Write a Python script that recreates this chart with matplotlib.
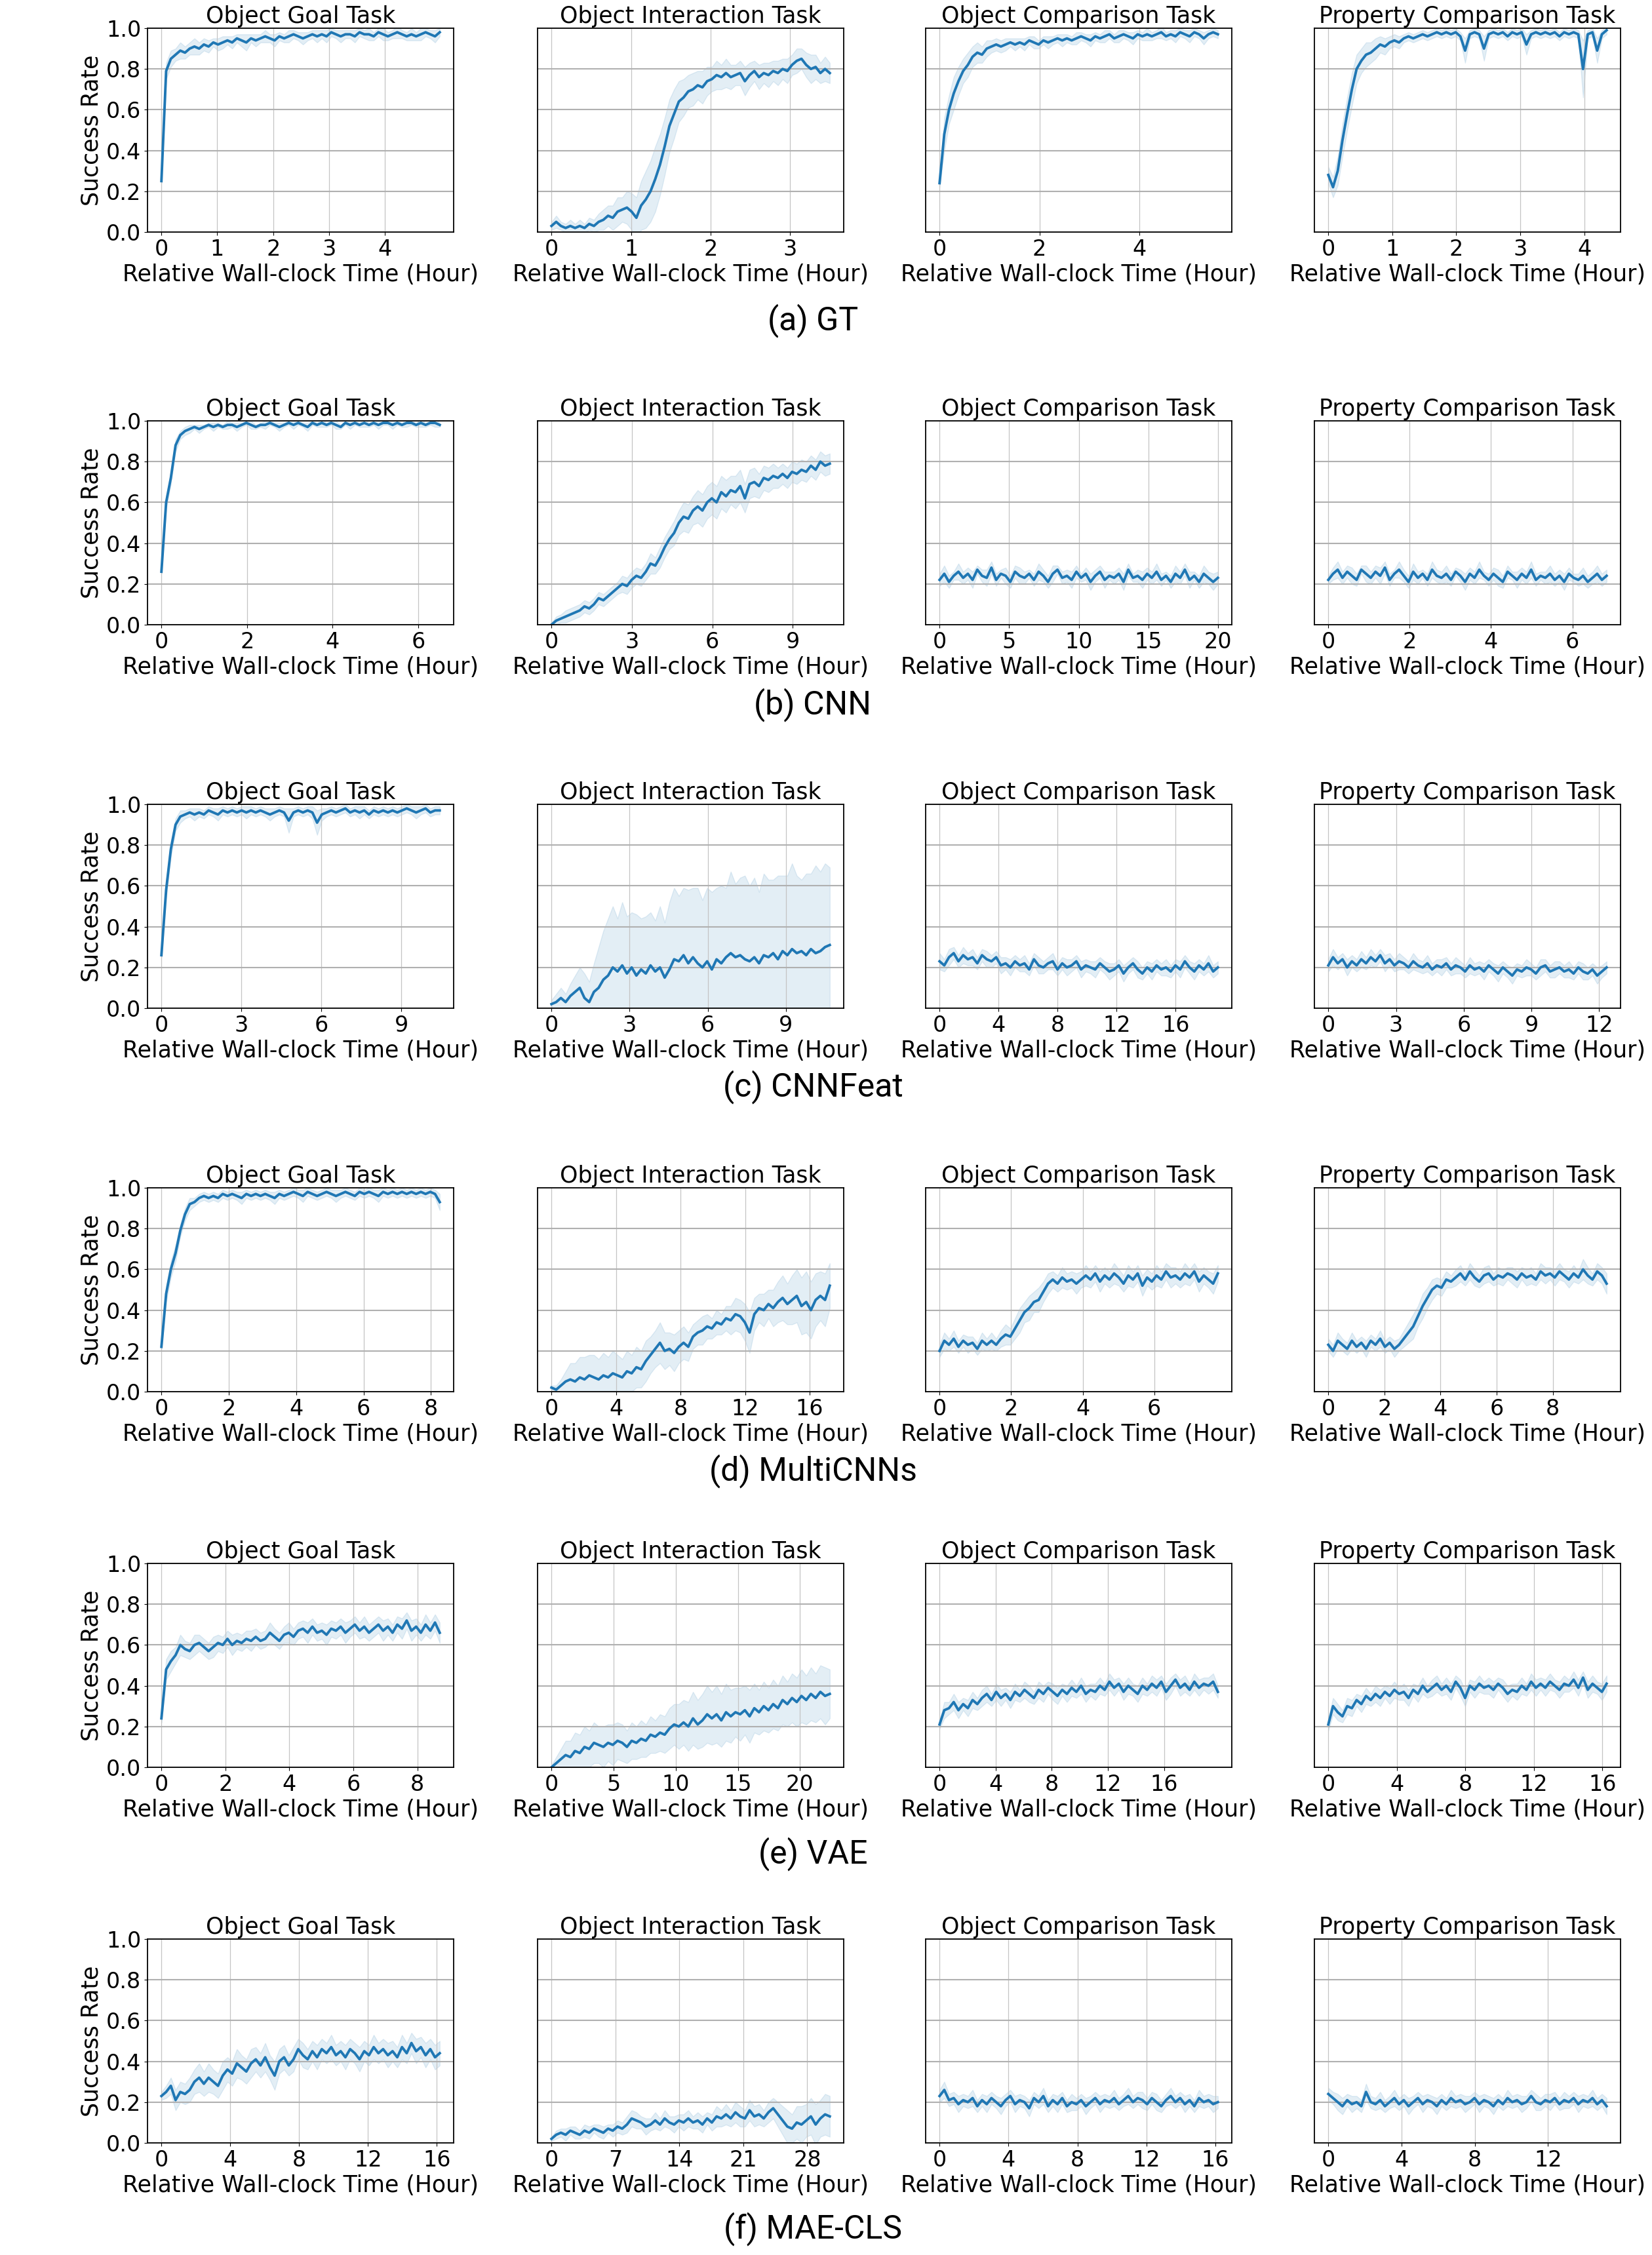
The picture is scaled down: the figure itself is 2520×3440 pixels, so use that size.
import numpy as np
import matplotlib.pyplot as plt

saida = 'out.png'

tarefas = ['Object Goal Task', 'Object Interaction Task',
           'Object Comparison Task', 'Property Comparison Task']
metodos = ['(a) GT', '(b) CNN', '(c) CNNFeat', '(d) MultiCNNs', '(e) VAE', '(f) MAE-CLS']

# duracao de cada treino (horas), uma linha por metodo
horas_gt = [4.98, 3.50, 5.57, 4.35]
horas_cnn = [6.50, 10.38, 20.0, 6.84]
horas_feat = [10.44, 10.69, 18.86, 12.33]
horas_multi = [8.26, 17.25, 7.78, 9.92]
horas_vae = [8.70, 22.4, 19.84, 16.25]
horas_mae = [16.17, 30.46, 16.14, 15.2]

ticks_gt = [[0, 1, 2, 3, 4], [0, 1, 2, 3], [0, 2, 4], [0, 1, 2, 3, 4]]
ticks_cnn = [[0, 2, 4, 6], [0, 3, 6, 9], [0, 5, 10, 15, 20], [0, 2, 4, 6]]
ticks_feat = [[0, 3, 6, 9], [0, 3, 6, 9], [0, 4, 8, 12, 16], [0, 3, 6, 9, 12]]
ticks_multi = [[0, 2, 4, 6, 8], [0, 4, 8, 12, 16], [0, 2, 4, 6], [0, 2, 4, 6, 8]]
ticks_vae = [[0, 2, 4, 6, 8], [0, 5, 10, 15, 20], [0, 4, 8, 12, 16], [0, 4, 8, 12, 16]]
ticks_mae = [[0, 4, 8, 12, 16], [0, 7, 14, 21, 28], [0, 4, 8, 12, 16], [0, 4, 8, 12]]

# ---------------- (a) GT ----------------
gt_goal = [0.25, 0.79, 0.85, 0.87, 0.89, 0.88, 0.90, 0.91, 0.90, 0.92,
           0.91, 0.93, 0.92, 0.93, 0.94, 0.93, 0.95, 0.94, 0.93, 0.95,
           0.94, 0.95, 0.96, 0.95, 0.94, 0.96, 0.95, 0.96, 0.97, 0.96,
           0.95, 0.96, 0.97, 0.96, 0.97, 0.96, 0.98, 0.97, 0.96, 0.97,
           0.97, 0.96, 0.98, 0.97, 0.97, 0.96, 0.98, 0.97, 0.96, 0.97,
           0.98, 0.97, 0.96, 0.97, 0.96, 0.97, 0.98, 0.97, 0.96, 0.98]
gt_goal_sd = [0.01, 0.04, 0.04, 0.03, 0.04, 0.03, 0.03, 0.04, 0.03, 0.03,
              0.03, 0.02, 0.03, 0.03, 0.02, 0.03, 0.02, 0.03, 0.04, 0.02,
              0.03, 0.02, 0.03, 0.02, 0.03, 0.02, 0.02, 0.03, 0.02, 0.02,
              0.03, 0.02, 0.02, 0.03, 0.02, 0.03, 0.02, 0.02, 0.03, 0.02,
              0.02, 0.03, 0.02, 0.02, 0.03, 0.02, 0.02, 0.03, 0.02, 0.02,
              0.03, 0.02, 0.02, 0.03, 0.02, 0.03, 0.02, 0.02, 0.03, 0.02]
gt_inter = [0.03, 0.05, 0.03, 0.02, 0.03, 0.02, 0.03, 0.02, 0.04, 0.03,
            0.05, 0.06, 0.08, 0.07, 0.10, 0.11, 0.12, 0.10, 0.07, 0.13,
            0.16, 0.20, 0.26, 0.33, 0.42, 0.52, 0.58, 0.64, 0.66, 0.69,
            0.70, 0.72, 0.71, 0.74, 0.75, 0.77, 0.76, 0.78, 0.76, 0.77,
            0.78, 0.74, 0.77, 0.79, 0.76, 0.78, 0.77, 0.79, 0.78, 0.80,
            0.79, 0.82, 0.84, 0.85, 0.82, 0.80, 0.81, 0.78, 0.80, 0.78]
gt_inter_sd = [0.02, 0.03, 0.02, 0.02, 0.03, 0.02, 0.03, 0.02, 0.03, 0.03,
               0.04, 0.05, 0.05, 0.06, 0.07, 0.06, 0.08, 0.09, 0.10, 0.12,
               0.14, 0.15, 0.16, 0.15, 0.14, 0.13, 0.12, 0.10, 0.09, 0.08,
               0.08, 0.07, 0.08, 0.07, 0.06, 0.07, 0.06, 0.07, 0.06, 0.05,
               0.06, 0.07, 0.06, 0.05, 0.06, 0.05, 0.06, 0.05, 0.06, 0.05,
               0.06, 0.05, 0.06, 0.05, 0.06, 0.07, 0.06, 0.05, 0.06, 0.05]
gt_comp = [0.24, 0.48, 0.60, 0.68, 0.74, 0.79, 0.82, 0.86, 0.88, 0.87,
           0.90, 0.91, 0.92, 0.91, 0.92, 0.93, 0.92, 0.93, 0.92, 0.94,
           0.93, 0.92, 0.94, 0.93, 0.94, 0.95, 0.94, 0.95, 0.94, 0.95,
           0.96, 0.95, 0.94, 0.96, 0.95, 0.96, 0.97, 0.95, 0.96, 0.97,
           0.96, 0.95, 0.97, 0.96, 0.97, 0.96, 0.97, 0.98, 0.96, 0.97,
           0.96, 0.98, 0.97, 0.96, 0.98, 0.97, 0.95, 0.97, 0.98, 0.97]
gt_comp_sd = [0.02, 0.08, 0.07, 0.08, 0.07, 0.06, 0.06, 0.05, 0.05, 0.04,
              0.04, 0.03, 0.03, 0.03, 0.03, 0.02, 0.03, 0.02, 0.03, 0.02,
              0.03, 0.02, 0.02, 0.03, 0.02, 0.02, 0.03, 0.02, 0.02, 0.03,
              0.02, 0.02, 0.03, 0.02, 0.02, 0.03, 0.02, 0.02, 0.03, 0.02,
              0.02, 0.03, 0.02, 0.02, 0.03, 0.02, 0.02, 0.03, 0.02, 0.02,
              0.03, 0.02, 0.02, 0.03, 0.02, 0.02, 0.03, 0.02, 0.02, 0.02]
gt_prop = [0.28, 0.22, 0.30, 0.45, 0.58, 0.70, 0.80, 0.84, 0.87, 0.88,
           0.90, 0.92, 0.91, 0.93, 0.94, 0.93, 0.95, 0.96, 0.95, 0.96,
           0.97, 0.96, 0.97, 0.98, 0.97, 0.98, 0.97, 0.98, 0.96, 0.89,
           0.97, 0.98, 0.97, 0.90, 0.97, 0.98, 0.97, 0.98, 0.96, 0.98,
           0.97, 0.98, 0.92, 0.97, 0.98, 0.97, 0.98, 0.97, 0.98, 0.96,
           0.98, 0.97, 0.98, 0.97, 0.80, 0.97, 0.98, 0.89, 0.97, 0.99]
gt_prop_sd = [0.04, 0.05, 0.07, 0.08, 0.08, 0.08, 0.07, 0.06, 0.06, 0.05,
              0.05, 0.04, 0.04, 0.03, 0.03, 0.03, 0.02, 0.02, 0.02, 0.02,
              0.02, 0.02, 0.02, 0.02, 0.02, 0.02, 0.02, 0.02, 0.02, 0.06,
              0.02, 0.02, 0.02, 0.06, 0.02, 0.02, 0.02, 0.02, 0.02, 0.02,
              0.02, 0.02, 0.05, 0.02, 0.02, 0.02, 0.02, 0.02, 0.02, 0.02,
              0.02, 0.02, 0.02, 0.02, 0.14, 0.02, 0.02, 0.06, 0.02, 0.02]

# ---------------- (b) CNN ----------------
cnn_goal = [0.26, 0.60, 0.72, 0.88, 0.93, 0.95, 0.96, 0.97, 0.96, 0.97,
            0.98, 0.97, 0.98, 0.97, 0.98, 0.98, 0.97, 0.98, 0.99, 0.98,
            0.97, 0.98, 0.98, 0.99, 0.98, 0.97, 0.98, 0.99, 0.98, 0.99,
            0.98, 0.97, 0.99, 0.98, 0.99, 0.98, 0.99, 0.98, 0.97, 0.99,
            0.98, 0.99, 0.98, 0.99, 0.98, 0.99, 0.98, 0.99, 0.99, 0.98,
            0.99, 0.98, 0.99, 0.99, 0.98, 0.99, 0.98, 0.99, 0.99, 0.98]
cnn_goal_sd = [0.01, 0.03, 0.03, 0.03, 0.02, 0.02, 0.02, 0.01, 0.02, 0.01,
               0.01, 0.02, 0.01, 0.01, 0.02, 0.01, 0.02, 0.01, 0.01, 0.02,
               0.01, 0.01, 0.02, 0.01, 0.01, 0.02, 0.01, 0.01, 0.02, 0.01,
               0.01, 0.02, 0.01, 0.01, 0.02, 0.01, 0.01, 0.02, 0.01, 0.01,
               0.02, 0.01, 0.01, 0.02, 0.01, 0.01, 0.02, 0.01, 0.01, 0.02,
               0.01, 0.01, 0.02, 0.01, 0.01, 0.02, 0.01, 0.01, 0.02, 0.01]
cnn_inter = [0.00, 0.02, 0.03, 0.04, 0.05, 0.06, 0.07, 0.09, 0.08, 0.10,
             0.13, 0.12, 0.14, 0.16, 0.18, 0.20, 0.19, 0.22, 0.24, 0.23,
             0.26, 0.30, 0.29, 0.33, 0.38, 0.42, 0.45, 0.50, 0.53, 0.52,
             0.56, 0.58, 0.56, 0.60, 0.62, 0.60, 0.65, 0.63, 0.66, 0.65,
             0.68, 0.62, 0.69, 0.70, 0.68, 0.72, 0.71, 0.73, 0.72, 0.74,
             0.72, 0.75, 0.74, 0.76, 0.75, 0.78, 0.76, 0.80, 0.78, 0.79]
cnn_inter_sd = [0.01, 0.02, 0.02, 0.03, 0.03, 0.03, 0.03, 0.03, 0.03, 0.03,
                0.03, 0.03, 0.03, 0.03, 0.03, 0.04, 0.04, 0.04, 0.04, 0.04,
                0.04, 0.05, 0.04, 0.05, 0.05, 0.05, 0.06, 0.06, 0.07, 0.07,
                0.07, 0.08, 0.08, 0.08, 0.08, 0.08, 0.08, 0.08, 0.07, 0.08,
                0.08, 0.07, 0.07, 0.07, 0.06, 0.06, 0.06, 0.06, 0.05, 0.05,
                0.05, 0.05, 0.05, 0.05, 0.05, 0.05, 0.05, 0.05, 0.05, 0.05]
cnn_comp = [0.22, 0.25, 0.21, 0.24, 0.26, 0.23, 0.25, 0.22, 0.27, 0.24,
            0.23, 0.28, 0.22, 0.25, 0.24, 0.21, 0.26, 0.24, 0.23, 0.25,
            0.22, 0.26, 0.24, 0.21, 0.25, 0.27, 0.23, 0.24, 0.22, 0.26,
            0.23, 0.25, 0.21, 0.24, 0.26, 0.22, 0.24, 0.23, 0.25, 0.21,
            0.27, 0.23, 0.24, 0.22, 0.25, 0.23, 0.26, 0.22, 0.24, 0.21,
            0.25, 0.23, 0.27, 0.22, 0.24, 0.21, 0.25, 0.23, 0.21, 0.23]
cnn_comp_sd = [0.03, 0.04, 0.03, 0.02, 0.04, 0.03, 0.03, 0.04, 0.02, 0.03,
               0.04, 0.03, 0.03, 0.02, 0.04, 0.03, 0.03, 0.04, 0.03, 0.02,
               0.03, 0.04, 0.03, 0.03, 0.04, 0.02, 0.03, 0.03, 0.04, 0.03,
               0.02, 0.03, 0.04, 0.03, 0.03, 0.04, 0.02, 0.03, 0.03, 0.04,
               0.03, 0.02, 0.03, 0.04, 0.03, 0.03, 0.04, 0.03, 0.02, 0.03,
               0.04, 0.03, 0.03, 0.04, 0.02, 0.03, 0.04, 0.03, 0.04, 0.03]
cnn_prop = [0.22, 0.25, 0.27, 0.23, 0.26, 0.24, 0.22, 0.27, 0.25, 0.23,
            0.26, 0.24, 0.28, 0.22, 0.25, 0.27, 0.24, 0.21, 0.26, 0.23,
            0.25, 0.22, 0.27, 0.24, 0.23, 0.25, 0.22, 0.26, 0.24, 0.21,
            0.25, 0.23, 0.27, 0.24, 0.22, 0.25, 0.23, 0.21, 0.26, 0.24,
            0.22, 0.25, 0.23, 0.27, 0.22, 0.24, 0.23, 0.25, 0.22, 0.24,
            0.21, 0.25, 0.23, 0.22, 0.24, 0.21, 0.23, 0.25, 0.22, 0.24]
cnn_prop_sd = [0.02, 0.03, 0.04, 0.03, 0.03, 0.04, 0.03, 0.02, 0.04, 0.03,
               0.03, 0.04, 0.03, 0.03, 0.02, 0.04, 0.03, 0.03, 0.04, 0.03,
               0.02, 0.03, 0.04, 0.03, 0.03, 0.04, 0.03, 0.02, 0.03, 0.04,
               0.03, 0.03, 0.04, 0.02, 0.03, 0.03, 0.04, 0.03, 0.03, 0.02,
               0.04, 0.03, 0.03, 0.04, 0.03, 0.02, 0.03, 0.04, 0.03, 0.03,
               0.04, 0.03, 0.02, 0.03, 0.04, 0.03, 0.03, 0.04, 0.03, 0.03]

# ---------------- (c) CNNFeat ----------------
feat_goal = [0.26, 0.58, 0.78, 0.90, 0.94, 0.95, 0.96, 0.95, 0.96, 0.95,
             0.97, 0.96, 0.95, 0.97, 0.96, 0.97, 0.96, 0.97, 0.96, 0.97,
             0.96, 0.97, 0.96, 0.95, 0.96, 0.97, 0.96, 0.92, 0.96, 0.97,
             0.96, 0.97, 0.96, 0.91, 0.95, 0.96, 0.97, 0.96, 0.97, 0.98,
             0.96, 0.97, 0.96, 0.97, 0.95, 0.97, 0.96, 0.97, 0.96, 0.97,
             0.96, 0.97, 0.98, 0.97, 0.96, 0.97, 0.98, 0.96, 0.97, 0.97]
feat_goal_sd = [0.01, 0.04, 0.04, 0.03, 0.03, 0.02, 0.02, 0.03, 0.02, 0.02,
                0.02, 0.02, 0.03, 0.02, 0.02, 0.02, 0.02, 0.02, 0.03, 0.02,
                0.02, 0.02, 0.02, 0.03, 0.02, 0.02, 0.02, 0.06, 0.02, 0.02,
                0.02, 0.02, 0.03, 0.06, 0.03, 0.02, 0.02, 0.02, 0.02, 0.02,
                0.02, 0.02, 0.03, 0.02, 0.02, 0.02, 0.02, 0.02, 0.02, 0.02,
                0.02, 0.02, 0.02, 0.02, 0.03, 0.02, 0.02, 0.02, 0.02, 0.02]
feat_inter = [0.02, 0.03, 0.05, 0.03, 0.06, 0.08, 0.10, 0.05, 0.03, 0.08,
              0.10, 0.14, 0.16, 0.20, 0.18, 0.21, 0.17, 0.20, 0.16, 0.19,
              0.17, 0.21, 0.18, 0.20, 0.15, 0.19, 0.24, 0.23, 0.26, 0.22,
              0.25, 0.22, 0.20, 0.23, 0.19, 0.24, 0.22, 0.25, 0.27, 0.25,
              0.26, 0.24, 0.23, 0.25, 0.22, 0.26, 0.25, 0.27, 0.24, 0.28,
              0.26, 0.29, 0.27, 0.28, 0.26, 0.29, 0.27, 0.28, 0.30, 0.31]
feat_inter_sd = [0.02, 0.04, 0.05, 0.04, 0.06, 0.08, 0.10, 0.12, 0.10, 0.14,
                 0.20, 0.24, 0.28, 0.30, 0.26, 0.31, 0.28, 0.27, 0.30, 0.25,
                 0.28, 0.26, 0.25, 0.30, 0.27, 0.33, 0.35, 0.32, 0.33, 0.36,
                 0.34, 0.37, 0.33, 0.36, 0.38, 0.35, 0.38, 0.34, 0.40, 0.36,
                 0.38, 0.41, 0.37, 0.39, 0.35, 0.40, 0.38, 0.36, 0.41, 0.37,
                 0.39, 0.42, 0.38, 0.35, 0.40, 0.37, 0.43, 0.39, 0.41, 0.38]
feat_comp = [0.23, 0.21, 0.25, 0.27, 0.23, 0.26, 0.24, 0.25, 0.22, 0.26,
             0.24, 0.23, 0.25, 0.21, 0.22, 0.20, 0.23, 0.21, 0.22, 0.19,
             0.24, 0.21, 0.20, 0.22, 0.23, 0.19, 0.22, 0.20, 0.21, 0.23,
             0.19, 0.21, 0.20, 0.19, 0.22, 0.20, 0.18, 0.19, 0.21, 0.17,
             0.20, 0.22, 0.19, 0.17, 0.20, 0.18, 0.21, 0.19, 0.20, 0.18,
             0.21, 0.19, 0.23, 0.20, 0.18, 0.21, 0.19, 0.22, 0.18, 0.20]
feat_comp_sd = [0.04, 0.03, 0.04, 0.03, 0.03, 0.04, 0.03, 0.04, 0.03, 0.03,
                0.04, 0.03, 0.03, 0.04, 0.03, 0.04, 0.03, 0.03, 0.04, 0.03,
                0.03, 0.04, 0.03, 0.03, 0.04, 0.03, 0.03, 0.04, 0.03, 0.03,
                0.04, 0.03, 0.03, 0.04, 0.03, 0.03, 0.04, 0.03, 0.03, 0.04,
                0.03, 0.03, 0.04, 0.03, 0.03, 0.04, 0.03, 0.03, 0.04, 0.03,
                0.03, 0.04, 0.03, 0.03, 0.04, 0.03, 0.03, 0.04, 0.03, 0.03]
feat_prop = [0.21, 0.25, 0.22, 0.24, 0.20, 0.23, 0.21, 0.24, 0.22, 0.25,
             0.23, 0.26, 0.22, 0.24, 0.21, 0.23, 0.22, 0.20, 0.23, 0.21,
             0.20, 0.22, 0.19, 0.21, 0.20, 0.22, 0.19, 0.21, 0.20, 0.18,
             0.21, 0.19, 0.20, 0.18, 0.21, 0.19, 0.17, 0.20, 0.18, 0.16,
             0.19, 0.18, 0.20, 0.19, 0.17, 0.20, 0.21, 0.18, 0.19, 0.20,
             0.18, 0.19, 0.17, 0.20, 0.18, 0.17, 0.19, 0.16, 0.18, 0.20]
feat_prop_sd = [0.03, 0.04, 0.03, 0.03, 0.04, 0.03, 0.03, 0.04, 0.03, 0.04,
                0.03, 0.03, 0.04, 0.03, 0.03, 0.04, 0.03, 0.03, 0.04, 0.03,
                0.03, 0.04, 0.03, 0.03, 0.04, 0.03, 0.03, 0.04, 0.03, 0.03,
                0.04, 0.03, 0.03, 0.04, 0.03, 0.03, 0.04, 0.03, 0.03, 0.04,
                0.03, 0.03, 0.04, 0.03, 0.03, 0.04, 0.03, 0.03, 0.04, 0.03,
                0.03, 0.04, 0.03, 0.03, 0.04, 0.03, 0.03, 0.04, 0.03, 0.03]

# ---------------- (d) MultiCNNs ----------------
multi_goal = [0.22, 0.48, 0.60, 0.68, 0.79, 0.87, 0.92, 0.93, 0.95, 0.96,
              0.95, 0.96, 0.95, 0.97, 0.96, 0.97, 0.96, 0.95, 0.97, 0.96,
              0.97, 0.96, 0.97, 0.96, 0.95, 0.97, 0.96, 0.97, 0.98, 0.97,
              0.96, 0.98, 0.97, 0.96, 0.97, 0.98, 0.97, 0.96, 0.97, 0.98,
              0.97, 0.96, 0.98, 0.97, 0.98, 0.97, 0.96, 0.98, 0.97, 0.98,
              0.97, 0.98, 0.97, 0.98, 0.97, 0.98, 0.97, 0.98, 0.97, 0.93]
multi_goal_sd = [0.01, 0.04, 0.04, 0.04, 0.03, 0.03, 0.03, 0.02, 0.02, 0.02,
                 0.02, 0.02, 0.02, 0.02, 0.02, 0.02, 0.02, 0.03, 0.02, 0.02,
                 0.02, 0.02, 0.02, 0.02, 0.03, 0.02, 0.02, 0.02, 0.02, 0.02,
                 0.03, 0.02, 0.02, 0.02, 0.02, 0.02, 0.02, 0.03, 0.02, 0.02,
                 0.02, 0.02, 0.02, 0.02, 0.02, 0.02, 0.03, 0.02, 0.02, 0.02,
                 0.02, 0.02, 0.02, 0.02, 0.02, 0.02, 0.02, 0.02, 0.02, 0.04]
multi_inter = [0.02, 0.01, 0.03, 0.05, 0.06, 0.05, 0.07, 0.06, 0.08, 0.07,
               0.06, 0.08, 0.07, 0.09, 0.08, 0.07, 0.10, 0.09, 0.12, 0.11,
               0.15, 0.18, 0.21, 0.24, 0.20, 0.21, 0.19, 0.22, 0.24, 0.22,
               0.27, 0.29, 0.30, 0.32, 0.31, 0.34, 0.33, 0.36, 0.35, 0.38,
               0.37, 0.34, 0.29, 0.38, 0.41, 0.40, 0.43, 0.41, 0.44, 0.46,
               0.43, 0.45, 0.47, 0.42, 0.44, 0.40, 0.45, 0.47, 0.45, 0.52]
multi_inter_sd = [0.01, 0.02, 0.03, 0.05, 0.08, 0.09, 0.10, 0.11, 0.10, 0.11,
                  0.10, 0.11, 0.10, 0.11, 0.10, 0.09, 0.10, 0.09, 0.10, 0.09,
                  0.10, 0.09, 0.09, 0.10, 0.09, 0.08, 0.09, 0.08, 0.08, 0.07,
                  0.06, 0.06, 0.07, 0.06, 0.05, 0.06, 0.05, 0.06, 0.07, 0.08,
                  0.08, 0.09, 0.10, 0.08, 0.07, 0.08, 0.07, 0.09, 0.10, 0.11,
                  0.10, 0.12, 0.13, 0.14, 0.15, 0.14, 0.13, 0.12, 0.13, 0.11]
multi_comp = [0.20, 0.25, 0.23, 0.26, 0.22, 0.25, 0.23, 0.24, 0.21, 0.25,
              0.23, 0.25, 0.23, 0.26, 0.28, 0.27, 0.31, 0.35, 0.39, 0.41,
              0.44, 0.45, 0.49, 0.53, 0.55, 0.53, 0.56, 0.54, 0.55, 0.53,
              0.55, 0.57, 0.55, 0.58, 0.54, 0.57, 0.55, 0.58, 0.56, 0.53,
              0.57, 0.55, 0.58, 0.52, 0.56, 0.54, 0.57, 0.55, 0.59, 0.56,
              0.57, 0.55, 0.58, 0.56, 0.59, 0.54, 0.57, 0.55, 0.53, 0.58]
multi_comp_sd = [0.03, 0.04, 0.03, 0.04, 0.03, 0.03, 0.04, 0.03, 0.03, 0.04,
                 0.03, 0.04, 0.03, 0.04, 0.05, 0.04, 0.05, 0.06, 0.05, 0.06,
                 0.05, 0.06, 0.05, 0.05, 0.04, 0.04, 0.05, 0.04, 0.04, 0.05,
                 0.04, 0.05, 0.04, 0.04, 0.05, 0.04, 0.04, 0.05, 0.04, 0.04,
                 0.05, 0.04, 0.04, 0.05, 0.04, 0.04, 0.05, 0.04, 0.04, 0.05,
                 0.04, 0.04, 0.05, 0.04, 0.04, 0.05, 0.04, 0.04, 0.05, 0.04]
multi_prop = [0.23, 0.20, 0.25, 0.23, 0.21, 0.25, 0.22, 0.24, 0.21, 0.25,
              0.23, 0.26, 0.22, 0.24, 0.21, 0.23, 0.26, 0.29, 0.32, 0.37,
              0.42, 0.46, 0.50, 0.52, 0.51, 0.55, 0.54, 0.56, 0.58, 0.55,
              0.59, 0.56, 0.54, 0.57, 0.58, 0.55, 0.57, 0.56, 0.58, 0.57,
              0.55, 0.58, 0.56, 0.57, 0.55, 0.59, 0.57, 0.58, 0.56, 0.59,
              0.57, 0.55, 0.58, 0.56, 0.60, 0.57, 0.55, 0.59, 0.57, 0.53]
multi_prop_sd = [0.03, 0.03, 0.04, 0.03, 0.03, 0.04, 0.03, 0.03, 0.04, 0.03,
                 0.03, 0.04, 0.03, 0.03, 0.04, 0.03, 0.04, 0.05, 0.06, 0.05,
                 0.06, 0.05, 0.05, 0.04, 0.04, 0.04, 0.03, 0.04, 0.04, 0.03,
                 0.04, 0.04, 0.03, 0.04, 0.04, 0.03, 0.04, 0.04, 0.03, 0.04,
                 0.04, 0.03, 0.04, 0.04, 0.03, 0.04, 0.04, 0.03, 0.04, 0.04,
                 0.03, 0.04, 0.04, 0.03, 0.05, 0.04, 0.03, 0.04, 0.04, 0.05]

# ---------------- (e) VAE ----------------
vae_goal = [0.24, 0.48, 0.52, 0.55, 0.60, 0.58, 0.57, 0.60, 0.61, 0.59,
            0.57, 0.59, 0.61, 0.60, 0.63, 0.60, 0.62, 0.61, 0.63, 0.62,
            0.64, 0.62, 0.63, 0.66, 0.64, 0.62, 0.65, 0.66, 0.64, 0.67,
            0.68, 0.66, 0.69, 0.66, 0.67, 0.65, 0.68, 0.67, 0.69, 0.66,
            0.68, 0.70, 0.67, 0.69, 0.66, 0.68, 0.70, 0.67, 0.69, 0.66,
            0.70, 0.68, 0.72, 0.67, 0.69, 0.66, 0.70, 0.67, 0.71, 0.66]
vae_goal_sd = [0.02, 0.05, 0.05, 0.04, 0.05, 0.04, 0.04, 0.05, 0.04, 0.04,
               0.04, 0.05, 0.04, 0.04, 0.04, 0.05, 0.04, 0.04, 0.04, 0.05,
               0.04, 0.04, 0.04, 0.05, 0.04, 0.04, 0.04, 0.05, 0.04, 0.04,
               0.04, 0.05, 0.04, 0.04, 0.04, 0.05, 0.04, 0.04, 0.04, 0.05,
               0.04, 0.04, 0.04, 0.05, 0.04, 0.04, 0.04, 0.05, 0.04, 0.04,
               0.04, 0.05, 0.04, 0.05, 0.04, 0.04, 0.05, 0.04, 0.04, 0.05]
vae_inter = [0.00, 0.02, 0.04, 0.06, 0.05, 0.08, 0.07, 0.10, 0.09, 0.12,
             0.11, 0.10, 0.12, 0.11, 0.13, 0.12, 0.10, 0.13, 0.12, 0.14,
             0.13, 0.16, 0.15, 0.17, 0.16, 0.19, 0.21, 0.20, 0.22, 0.20,
             0.24, 0.21, 0.23, 0.26, 0.24, 0.26, 0.23, 0.27, 0.25, 0.27,
             0.26, 0.28, 0.25, 0.29, 0.27, 0.30, 0.28, 0.31, 0.29, 0.33,
             0.31, 0.34, 0.32, 0.35, 0.33, 0.36, 0.34, 0.37, 0.35, 0.36]
vae_inter_sd = [0.01, 0.03, 0.05, 0.07, 0.08, 0.09, 0.09, 0.10, 0.09, 0.10,
                0.09, 0.10, 0.09, 0.10, 0.09, 0.09, 0.08, 0.09, 0.08, 0.09,
                0.08, 0.09, 0.08, 0.09, 0.09, 0.10, 0.10, 0.11, 0.11, 0.12,
                0.13, 0.12, 0.13, 0.14, 0.13, 0.14, 0.13, 0.14, 0.13, 0.12,
                0.13, 0.12, 0.13, 0.12, 0.11, 0.12, 0.11, 0.12, 0.11, 0.12,
                0.11, 0.12, 0.12, 0.13, 0.12, 0.13, 0.12, 0.13, 0.14, 0.12]
vae_comp = [0.21, 0.28, 0.29, 0.32, 0.28, 0.31, 0.29, 0.33, 0.31, 0.34,
            0.36, 0.33, 0.37, 0.34, 0.36, 0.33, 0.37, 0.35, 0.38, 0.36,
            0.34, 0.38, 0.36, 0.39, 0.37, 0.35, 0.38, 0.36, 0.39, 0.37,
            0.40, 0.36, 0.38, 0.37, 0.40, 0.38, 0.42, 0.39, 0.41, 0.37,
            0.40, 0.38, 0.36, 0.40, 0.38, 0.41, 0.39, 0.42, 0.37, 0.40,
            0.43, 0.39, 0.41, 0.38, 0.42, 0.39, 0.41, 0.40, 0.42, 0.37]
vae_comp_sd = [0.02, 0.04, 0.03, 0.04, 0.04, 0.03, 0.04, 0.04, 0.03, 0.04,
               0.04, 0.03, 0.04, 0.04, 0.03, 0.04, 0.04, 0.03, 0.04, 0.04,
               0.03, 0.04, 0.04, 0.03, 0.04, 0.04, 0.03, 0.04, 0.04, 0.03,
               0.04, 0.04, 0.03, 0.04, 0.04, 0.03, 0.04, 0.04, 0.03, 0.04,
               0.04, 0.03, 0.04, 0.04, 0.03, 0.04, 0.04, 0.03, 0.04, 0.04,
               0.03, 0.04, 0.04, 0.03, 0.04, 0.04, 0.03, 0.04, 0.04, 0.03]
vae_prop = [0.21, 0.30, 0.27, 0.25, 0.30, 0.29, 0.33, 0.31, 0.35, 0.33,
            0.36, 0.34, 0.37, 0.35, 0.38, 0.36, 0.37, 0.34, 0.38, 0.36,
            0.40, 0.37, 0.39, 0.41, 0.38, 0.40, 0.37, 0.42, 0.39, 0.34,
            0.40, 0.38, 0.41, 0.39, 0.40, 0.38, 0.41, 0.39, 0.36, 0.38,
            0.37, 0.40, 0.38, 0.42, 0.39, 0.41, 0.39, 0.42, 0.40, 0.38,
            0.41, 0.40, 0.43, 0.39, 0.44, 0.38, 0.41, 0.39, 0.37, 0.41]
vae_prop_sd = [0.03, 0.04, 0.04, 0.03, 0.04, 0.04, 0.03, 0.04, 0.04, 0.03,
               0.04, 0.04, 0.03, 0.04, 0.04, 0.03, 0.04, 0.04, 0.03, 0.04,
               0.04, 0.03, 0.04, 0.04, 0.03, 0.04, 0.04, 0.03, 0.04, 0.04,
               0.03, 0.04, 0.04, 0.03, 0.04, 0.04, 0.03, 0.04, 0.04, 0.03,
               0.04, 0.04, 0.03, 0.04, 0.04, 0.03, 0.04, 0.04, 0.03, 0.04,
               0.04, 0.03, 0.04, 0.04, 0.03, 0.04, 0.04, 0.03, 0.04, 0.04]

# ---------------- (f) MAE-CLS ----------------
mae_goal = [0.23, 0.25, 0.28, 0.21, 0.25, 0.24, 0.26, 0.30, 0.32, 0.29,
            0.32, 0.30, 0.28, 0.33, 0.36, 0.34, 0.39, 0.37, 0.35, 0.39,
            0.41, 0.38, 0.42, 0.37, 0.33, 0.40, 0.42, 0.38, 0.41, 0.46,
            0.43, 0.41, 0.45, 0.42, 0.46, 0.44, 0.47, 0.43, 0.45, 0.42,
            0.46, 0.44, 0.41, 0.45, 0.43, 0.47, 0.44, 0.46, 0.43, 0.45,
            0.42, 0.47, 0.44, 0.49, 0.45, 0.47, 0.43, 0.46, 0.42, 0.44]
mae_goal_sd = [0.02, 0.03, 0.04, 0.05, 0.05, 0.05, 0.06, 0.06, 0.07, 0.06,
               0.07, 0.06, 0.06, 0.07, 0.06, 0.06, 0.07, 0.06, 0.06, 0.07,
               0.06, 0.06, 0.07, 0.06, 0.07, 0.06, 0.06, 0.05, 0.06, 0.05,
               0.06, 0.05, 0.05, 0.06, 0.05, 0.05, 0.06, 0.05, 0.05, 0.06,
               0.05, 0.05, 0.06, 0.05, 0.05, 0.06, 0.05, 0.05, 0.06, 0.05,
               0.05, 0.06, 0.05, 0.05, 0.06, 0.05, 0.06, 0.05, 0.06, 0.06]
mae_inter = [0.02, 0.04, 0.05, 0.04, 0.06, 0.05, 0.04, 0.06, 0.05, 0.07,
             0.06, 0.05, 0.07, 0.06, 0.08, 0.07, 0.09, 0.12, 0.11, 0.10,
             0.08, 0.09, 0.11, 0.09, 0.12, 0.10, 0.09, 0.11, 0.10, 0.12,
             0.10, 0.11, 0.09, 0.12, 0.10, 0.13, 0.12, 0.14, 0.12, 0.15,
             0.13, 0.12, 0.16, 0.13, 0.14, 0.12, 0.15, 0.17, 0.14, 0.11,
             0.08, 0.07, 0.10, 0.09, 0.11, 0.13, 0.09, 0.12, 0.14, 0.13]
mae_inter_sd = [0.01, 0.02, 0.02, 0.03, 0.02, 0.03, 0.02, 0.03, 0.03, 0.02,
                0.03, 0.03, 0.02, 0.03, 0.03, 0.03, 0.04, 0.04, 0.04, 0.03,
                0.04, 0.03, 0.04, 0.03, 0.04, 0.03, 0.04, 0.03, 0.04, 0.04,
                0.03, 0.04, 0.04, 0.03, 0.04, 0.05, 0.04, 0.05, 0.04, 0.05,
                0.05, 0.04, 0.05, 0.05, 0.05, 0.04, 0.05, 0.05, 0.06, 0.07,
                0.08, 0.07, 0.08, 0.09, 0.08, 0.09, 0.10, 0.09, 0.10, 0.10]
mae_comp = [0.23, 0.26, 0.21, 0.22, 0.19, 0.21, 0.20, 0.22, 0.18, 0.21,
            0.19, 0.22, 0.20, 0.18, 0.21, 0.23, 0.19, 0.21, 0.20, 0.17,
            0.22, 0.20, 0.23, 0.18, 0.21, 0.19, 0.22, 0.18, 0.20, 0.19,
            0.21, 0.18, 0.20, 0.22, 0.19, 0.21, 0.20, 0.22, 0.19, 0.21,
            0.23, 0.20, 0.22, 0.21, 0.19, 0.22, 0.20, 0.18, 0.21, 0.23,
            0.20, 0.22, 0.19, 0.21, 0.18, 0.22, 0.20, 0.21, 0.19, 0.20]
mae_comp_sd = [0.03, 0.04, 0.03, 0.03, 0.04, 0.03, 0.03, 0.04, 0.03, 0.03,
               0.04, 0.03, 0.03, 0.04, 0.03, 0.03, 0.04, 0.03, 0.03, 0.04,
               0.03, 0.03, 0.04, 0.03, 0.03, 0.04, 0.03, 0.03, 0.04, 0.03,
               0.03, 0.04, 0.03, 0.03, 0.04, 0.03, 0.03, 0.04, 0.03, 0.03,
               0.04, 0.03, 0.03, 0.04, 0.03, 0.03, 0.04, 0.03, 0.03, 0.04,
               0.03, 0.03, 0.04, 0.03, 0.03, 0.04, 0.03, 0.03, 0.04, 0.03]
mae_prop = [0.24, 0.22, 0.20, 0.18, 0.21, 0.19, 0.20, 0.18, 0.25, 0.20,
            0.19, 0.21, 0.18, 0.20, 0.22, 0.19, 0.21, 0.18, 0.20, 0.22,
            0.19, 0.21, 0.20, 0.18, 0.21, 0.19, 0.22, 0.20, 0.21, 0.19,
            0.20, 0.22, 0.19, 0.21, 0.20, 0.18, 0.21, 0.19, 0.22, 0.20,
            0.21, 0.19, 0.20, 0.23, 0.20, 0.19, 0.21, 0.20, 0.22, 0.19,
            0.21, 0.20, 0.22, 0.19, 0.21, 0.20, 0.22, 0.19, 0.21, 0.18]
mae_prop_sd = [0.03, 0.03, 0.04, 0.04, 0.03, 0.04, 0.03, 0.03, 0.04, 0.03,
               0.03, 0.04, 0.03, 0.03, 0.04, 0.03, 0.03, 0.04, 0.03, 0.03,
               0.04, 0.03, 0.03, 0.04, 0.03, 0.03, 0.04, 0.03, 0.03, 0.04,
               0.03, 0.03, 0.04, 0.03, 0.03, 0.04, 0.03, 0.03, 0.04, 0.03,
               0.03, 0.04, 0.03, 0.03, 0.04, 0.03, 0.03, 0.04, 0.03, 0.03,
               0.04, 0.03, 0.03, 0.04, 0.03, 0.03, 0.04, 0.03, 0.03, 0.04]

horas = [horas_gt, horas_cnn, horas_feat, horas_multi, horas_vae, horas_mae]
ticks = [ticks_gt, ticks_cnn, ticks_feat, ticks_multi, ticks_vae, ticks_mae]
medias = [[gt_goal, gt_inter, gt_comp, gt_prop],
          [cnn_goal, cnn_inter, cnn_comp, cnn_prop],
          [feat_goal, feat_inter, feat_comp, feat_prop],
          [multi_goal, multi_inter, multi_comp, multi_prop],
          [vae_goal, vae_inter, vae_comp, vae_prop],
          [mae_goal, mae_inter, mae_comp, mae_prop]]
desvios = [[gt_goal_sd, gt_inter_sd, gt_comp_sd, gt_prop_sd],
           [cnn_goal_sd, cnn_inter_sd, cnn_comp_sd, cnn_prop_sd],
           [feat_goal_sd, feat_inter_sd, feat_comp_sd, feat_prop_sd],
           [multi_goal_sd, multi_inter_sd, multi_comp_sd, multi_prop_sd],
           [vae_goal_sd, vae_inter_sd, vae_comp_sd, vae_prop_sd],
           [mae_goal_sd, mae_inter_sd, mae_comp_sd, mae_prop_sd]]

azul = '#1f77b4'
W, H = 2520, 3440
col_x = [225, 820, 1412, 2005]
lin_y = [43, 642, 1227, 1812, 2385, 2958]
leg_y = [489, 1075, 1658, 2244, 2828, 3400]
aw, ah = 467, 311

fig = plt.figure(figsize=(W / 100, H / 100), dpi=100)

for r in range(6):
    for c in range(4):
        ax = fig.add_axes([col_x[c] / W, 1 - (lin_y[r] + ah) / H, aw / W, ah / H])
        m = np.array(medias[r][c])
        s = np.array(desvios[r][c])
        t = np.linspace(0, horas[r][c], len(m))
        ax.fill_between(t, m - s, m + s, color=azul, alpha=0.12)
        ax.plot(t, m, color=azul, lw=2.8)
        ax.set_ylim(0, 1)
        ax.set_yticks([0.0, 0.2, 0.4, 0.6, 0.8, 1.0])
        ax.set_xticks(ticks[r][c])
        ax.yaxis.grid(True, color='#b0b0b0', lw=1.5)
        ax.xaxis.grid(True, color='#c4c4c4', lw=0.9)
        ax.tick_params(labelsize=24)
        for sp in ax.spines.values():
            sp.set_linewidth(1.3)
        ax.set_title(tarefas[c], fontsize=25)
        ax.set_xlabel('Relative Wall-clock Time (Hour)', fontsize=25)
        if c == 0:
            ax.set_ylabel('Success Rate', fontsize=25)
        else:
            ax.tick_params(axis='y', left=False, labelleft=False)
    fig.text(1240 / W, 1 - leg_y[r] / H, metodos[r], ha='center', va='center',
             fontsize=36, family='Roboto')

fig.savefig(saida, dpi=100)
